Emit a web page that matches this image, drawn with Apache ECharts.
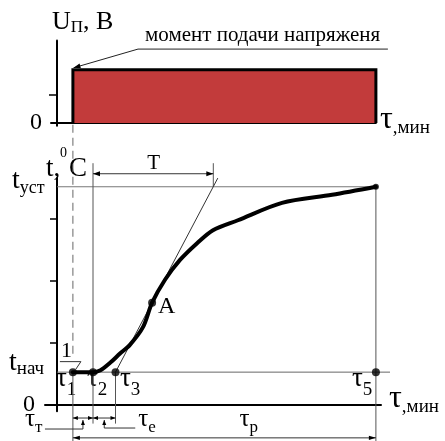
<!DOCTYPE html>
<html>
<head>
<meta charset="utf-8">
<script src="https://cdn.jsdelivr.net/npm/echarts@6/dist/echarts.min.js"></script>
<style>
  html, body { margin: 0; padding: 0; background: #fff; }
  #c { width: 445px; height: 441px; }
</style>
</head>
<body>
<div id="c"></div>
<script>
// ---- characteristic times, min ----
const tau1 = 5.3;      // voltage switched on
const tau2 = 12;
const tau3 = 19.5;     // tangent meets the initial level
const tau5 = 106.3;    // steady state reached
const tauTEnd = 52.1;  // tangent meets the steady level
// ---- temperature levels ----
const tStart = 0.53;
const tSet = 3.52;
// ---- supply voltage level ----
const uLevel = 1.9;
// ---- heating curve t(τ) ----
const heatCurve = [
  [5.3, 0.53], [12, 0.53], [14.5, 0.56], [17.7, 0.68], [21, 0.83],
  [24.3, 0.97], [28.7, 1.26], [31.7, 1.65], [36, 2.02], [41, 2.34],
  [46.7, 2.61], [52, 2.82], [60.3, 2.98], [75, 3.26], [91.7, 3.39],
  [106.3, 3.52]
];
const pointA = [31.7, 1.65];
const tangentLine = [[tau3, tStart], [53.6, 3.66]];
// ---- axis ticks ----
const voltTicks = [1];
const tempTicks = [1, 2, 3];
const zeroLabel = [0];

const FONT = '"Liberation Serif", "Times New Roman", serif';
const INK = '#000';
const GUIDE = '#555';

// levels (axis units) used for dimension lines below / above the plot
const dimRow = -0.21, pRow = -0.53, extShort = -0.3, extLong = -0.62;
const topExt = 3.9, tRow = 3.73;
const noteY = 2.64, noteX0 = 27, noteX1 = 110.3;

const chart = echarts.init(document.getElementById('c'));

function arrowHead(from, tip, len, half) {
  len = len || 7; half = half || 2.4;
  const dx = tip[0] - from[0], dy = tip[1] - from[1];
  const L = Math.hypot(dx, dy) || 1;
  const ux = dx / L, uy = dy / L;
  const bx = tip[0] - ux * len, by = tip[1] - uy * len;
  return {
    type: 'polygon',
    shape: { points: [[tip[0], tip[1]], [bx - uy * half, by + ux * half], [bx + uy * half, by - ux * half]] },
    style: { fill: INK }
  };
}

// each entry: pts in axis units, or anchor (axis units) + px offsets
function segRenderer(list) {
  return function (params, api) {
    const s = list[params.dataIndex];
    let pts;
    if (s.pts) {
      pts = s.pts.map(p => api.coord(p));
    } else {
      const a = api.coord(s.anchor);
      pts = s.px.map(o => [a[0] + o[0], a[1] + o[1]]);
    }
    const children = [{
      type: 'polyline',
      shape: { points: pts },
      style: { stroke: s.color || GUIDE, lineWidth: s.width || 1, lineDash: s.dash || null, fill: null }
    }];
    const n = pts.length;
    if (s.arrow === 'start' || s.arrow === 'both') children.push(arrowHead(pts[1], pts[0], s.al, s.ah));
    if (s.arrow === 'end' || s.arrow === 'both') children.push(arrowHead(pts[n - 2], pts[n - 1], s.al, s.ah));
    return { type: 'group', children };
  };
}

const topSegs = [
  { pts: [[noteX0, noteY], [noteX1, noteY]], color: '#222' },
  { pts: [[noteX0, noteY], [tau1 + 0.2, uLevel + 0.07]], color: '#222', arrow: 'end', al: 7, ah: 2.4 }
];

const botSegs = [
  // guide levels
  { pts: [[0, tSet], [tau5, tSet]], color: '#777' },
  { pts: [[0, tStart], [111, tStart]], color: '#666' },
  // extension lines
  { pts: [[tau2, extShort], [tau2, topExt]] },
  { pts: [[tau3, tStart], [tau3, extShort]] },
  { pts: [[tau1, tStart], [tau1, extLong]] },
  { pts: [[tau5, tSet], [tau5, extLong]] },
  { pts: [[tauTEnd, tSet], [tauTEnd, topExt]] },
  // switching moment
  { pts: [[tau1, 4.52], [tau1, 0.76]], dash: [8, 5], color: '#666' },
  // dimension lines
  { pts: [[tau2, tRow], [tauTEnd, tRow]], arrow: 'both', color: '#333' },
  { pts: [[tau1, dimRow], [tau2, dimRow]], arrow: 'both', color: '#333', al: 5, ah: 2 },
  { pts: [[tau2, dimRow], [tau3, dimRow]], arrow: 'both', color: '#333', al: 5, ah: 2 },
  { pts: [[tau1, pRow], [tau5, pRow]], arrow: 'both', color: '#333', al: 7, ah: 2.2 },
  // leaders
  { anchor: [(tau1 + tau2) / 2, dimRow], px: [[0, 2], [0, 11], [-38, 11]], arrow: 'start', color: '#333', al: 5, ah: 2 },
  { anchor: [(tau2 + tau3) / 2, dimRow], px: [[0, 2], [0, 10], [31, 10]], arrow: 'start', color: '#333', al: 5, ah: 2 },
  { anchor: [tau1, tStart], px: [[3, -3], [8, -10.5], [-13, -10.5]], color: '#333' }
];

chart.setOption({
  animation: false,
  backgroundColor: '#fff',
  grid: [
    { left: 51, right: 69.1, top: 40.4, bottom: 315.2, outerBoundsMode: 'none', containLabel: false },
    { left: 45, right: 64, top: 178.08, bottom: 29.8, outerBoundsMode: 'none', containLabel: false }
  ],
  xAxis: [
    { gridIndex: 0, type: 'value', min: -2, max: 106.3,
      axisLine: { lineStyle: { color: INK, width: 2 } },
      axisTick: { show: false }, axisLabel: { show: false }, splitLine: { show: false } },
    { gridIndex: 1, type: 'value', min: -4, max: 108,
      axisLine: { lineStyle: { color: INK, width: 2 } },
      axisTick: { show: false }, axisLabel: { show: false }, splitLine: { show: false } }
  ],
  yAxis: [
    { gridIndex: 0, type: 'value', min: -0.1, max: 2.95,
      axisLine: { show: true, onZero: true, lineStyle: { color: INK, width: 2 } },
      axisTick: { show: true, customValues: voltTicks, length: 8, lineStyle: { color: INK, width: 1.5 } },
      axisLabel: { show: true, customValues: zeroLabel, margin: 9, color: INK, fontFamily: FONT, fontSize: 24 },
      splitLine: { show: false } },
    { gridIndex: 1, type: 'value', min: -0.1, max: 3.66,
      axisLine: { show: true, onZero: true, lineStyle: { color: INK, width: 2 } },
      axisTick: { show: true, customValues: tempTicks, length: 7, lineStyle: { color: INK, width: 1.5 } },
      axisLabel: { show: true, customValues: zeroLabel, margin: 10, color: INK, fontFamily: FONT, fontSize: 24 },
      splitLine: { show: false } }
  ],
  series: [
    { // supply voltage step
      type: 'line', xAxisIndex: 0, yAxisIndex: 0, z: 3,
      data: [[tau1, 0], [tau1, uLevel], [tau5, uLevel], [tau5, 0]],
      symbol: 'none', silent: true,
      lineStyle: { color: INK, width: 3, join: 'miter' },
      areaStyle: { color: '#C23B3B', opacity: 1 }
    },
    { type: 'custom', xAxisIndex: 0, yAxisIndex: 0, silent: true, z: 4,
      data: topSegs.map(s => (s.pts ? s.pts[0] : s.anchor)),
      encode: { x: 0, y: 1 }, renderItem: segRenderer(topSegs) },
    { type: 'custom', xAxisIndex: 1, yAxisIndex: 1, silent: true, z: 2,
      data: botSegs.map(s => (s.pts ? s.pts[0] : s.anchor)),
      encode: { x: 0, y: 1 }, renderItem: segRenderer(botSegs) },
    { // tangent at the inflection point
      type: 'line', xAxisIndex: 1, yAxisIndex: 1, z: 3, clip: false,
      data: tangentLine, symbol: 'none', silent: true,
      lineStyle: { color: '#333', width: 1 }
    },
    { // heating curve
      type: 'line', xAxisIndex: 1, yAxisIndex: 1, z: 5,
      data: heatCurve, symbol: 'none', smooth: 0.3, silent: true,
      lineStyle: { color: INK, width: 4, cap: 'round', join: 'round' }
    },
    { // marked points
      type: 'scatter', xAxisIndex: 1, yAxisIndex: 1, z: 6, silent: true,
      symbolSize: 8, itemStyle: { color: INK },
      data: [[tau1, tStart], [tau2, tStart], [tau3, tStart], pointA, [tau5, tStart],
             { value: [tau5, tSet], symbolSize: 6 }]
    }
  ]
});

// ---- text labels ----
const ctx = document.createElement('canvas').getContext('2d');
function textW(t, size) { ctx.font = size + 'px ' + FONT; return ctx.measureText(t).width; }
const MID = 0.3375; // middle-to-baseline distance, em
function label(x, baseline, parts) {
  const out = [];
  let cx = x;
  parts.forEach(p => {
    const sx = p.sx || 1;
    out.push({
      type: 'text', x: cx, y: baseline + (p.dy || 0) - MID * p.size, scaleX: sx,
      style: { text: p.t, font: p.size + 'px ' + FONT, fill: INK, verticalAlign: 'middle', align: 'left' },
      silent: true
    });
    cx += textW(p.t, p.size) * sx + (p.gap || 0);
  });
  return out;
}
const P0 = v => chart.convertToPixel({ gridIndex: 0 }, v);
const P1 = v => chart.convertToPixel({ gridIndex: 1 }, v);

const g = [];
const uTop = P0([0, 2.95]);
g.push(...label(uTop[0] - 5, uTop[1] - 9.5, [
  { t: 'U', size: 26 }, { t: 'П', size: 17, dy: 2.5 }, { t: ', B', size: 26 }
]));
const note = P0([noteX0, noteY]);
g.push(...label(note[0] + 7, note[1] - 7, [{ t: 'момент подачи напряженя', size: 21 }]));
const xEnd0 = P0([106.3, 0]);
g.push(...label(xEnd0[0] + 4, xEnd0[1] + 7, [
  { t: 'τ', size: 32 }, { t: ',мин', size: 19, dy: 4 }
]));

const yTop = P1([0, 3.66]);
g.push(...label(yTop[0] - 11, yTop[1], [{ t: 't,', size: 27 }]));
g.push(...label(yTop[0] + 3, yTop[1] - 20, [{ t: '0', size: 14 }]));
g.push(...label(yTop[0] + 12, yTop[1], [{ t: 'C', size: 27 }]));

const ySet = P1([0, tSet]);
g.push(...label(12, ySet[1] + 3.5, [{ t: 't', size: 28 }, { t: 'уст', size: 18, dy: 4.5 }]));
const yStart = P1([0, tStart]);
g.push(...label(9, yStart[1] - 0.5, [{ t: 't', size: 28 }, { t: 'нач', size: 19, dy: 3.5 }]));

const p1 = P1([tau1, tStart]);
g.push(...label(p1[0] - 12, p1[1] - 13, [{ t: '1', size: 22 }]));

const tauLbl = (px, dx, sub) => label(px[0] + dx, px[1] + 16, [
  { t: 'τ', size: 27 }, { t: sub, size: 19, dy: 8.5 }
]);
g.push(...tauLbl(p1, -17, '1'));
g.push(...tauLbl(P1([tau2, tStart]), -6, '2'));
g.push(...tauLbl(P1([tau3, tStart]), 4.5, '3'));
g.push(...tauLbl(P1([tau5, tStart]), -24, '5'));

const tMid = P1([(tau2 + tauTEnd) / 2, tRow]);
g.push(...label(tMid[0] - 6, tMid[1] - 3, [{ t: 'T', size: 21 }]));
const aPx = P1(pointA);
g.push(...label(aPx[0] + 6, aPx[1] + 12, [{ t: 'A', size: 24 }]));

const dRow = P1([tau1, dimRow]);
g.push(...label(25, dRow[1] + 10, [{ t: 'τ', size: 25 }, { t: 'т', size: 17, dy: 5 }]));
const eRow = P1([(tau2 + tau3) / 2, dimRow]);
g.push(...label(eRow[0] + 34, dRow[1] + 10, [{ t: 'τ', size: 25 }, { t: 'е', size: 17, dy: 5 }]));
const pMid = P1([(tau1 + tau5) / 2, pRow]);
g.push(...label(pMid[0] + 15, pMid[1] - 10, [{ t: 'τ', size: 25 }, { t: 'р', size: 17, dy: 5 }]));

const xEnd1 = P1([108, 0]);
g.push(...label(xEnd1[0] + 8, xEnd1[1] + 4, [
  { t: 'τ', size: 32 }, { t: ',мин', size: 19, dy: 4 }
]));

chart.setOption({ graphic: { elements: g } });
</script>
</body>
</html>
